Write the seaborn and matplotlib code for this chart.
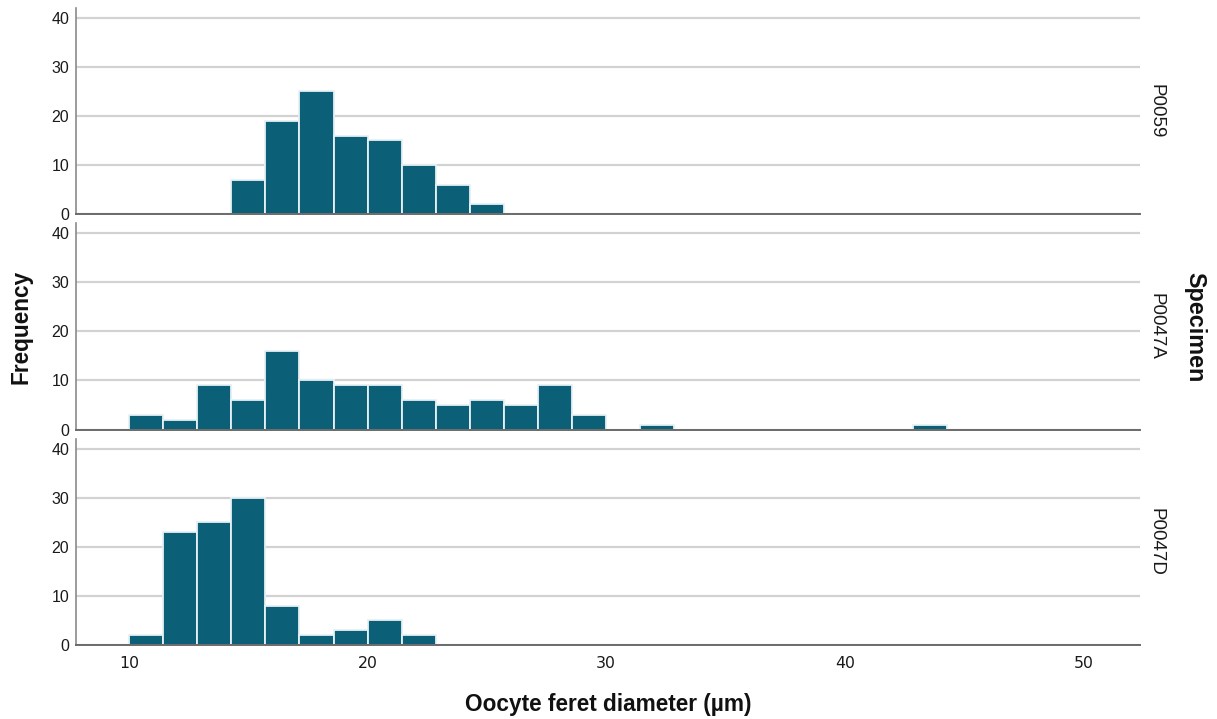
import numpy as np
import pandas as pd
import matplotlib
matplotlib.use('Agg')
import matplotlib.pyplot as plt
import seaborn as sns

# Histogram counts per bin (bins start at 10 um, width 10/7 um)
specimens = ['P0059', 'P0047A', 'P0047D']
counts_p0059 = [0, 0, 0, 7, 19, 25, 16, 15, 10, 6, 2]
counts_p0047a = [3, 2, 9, 6, 16, 10, 9, 9, 6, 5, 6, 5, 9, 3, 0, 1,
                 0, 0, 0, 0, 0, 0, 0, 1]
counts_p0047d = [2, 23, 25, 30, 8, 2, 3, 5, 2]
bin_start = 10.0
bin_width = 10 / 7
n_bins = 24
y_ticks = [0, 10, 20, 30, 40]
x_ticks = [10, 20, 30, 40, 50]

bar_color = '#0b5f77'

# Build a long table of bin centres and counts
rows = []
for name, counts in zip(specimens, [counts_p0059, counts_p0047a, counts_p0047d]):
    for i, c in enumerate(counts):
        if c > 0:
            rows.append({'Specimen': name,
                         'diameter': bin_start + (i + 0.5) * bin_width,
                         'count': c})
df = pd.DataFrame(rows)

sns.set_theme(style='white')
plt.rcParams['font.family'] = ['Liberation Sans', 'DejaVu Sans']

g = sns.displot(data=df, x='diameter', weights='count', row='Specimen',
                row_order=specimens, binwidth=bin_width,
                binrange=(bin_start, bin_start + n_bins * bin_width),
                color=bar_color, alpha=1,
                edgecolor='#e6f1f4', linewidth=1.3, height=2.4, aspect=5,
                facet_kws={'sharex': True, 'sharey': True})

fig = g.figure
fig.set_size_inches(12.17, 7.19)
fig.subplots_adjust(left=0.0625, right=0.937, top=0.989, bottom=0.103,
                    hspace=0.045)

g.set_titles(row_template='', col_template='')
g.set(xlim=(7.78, 52.39), ylim=(0, 42))

for ax, name in zip(g.axes.flat, specimens):
    ax.set_axisbelow(True)
    ax.set_yticks(y_ticks)
    ax.yaxis.grid(True, color='#d2d2d2', linewidth=1.6)
    ax.xaxis.grid(False)
    ax.set_xlabel('')
    ax.set_ylabel('')
    ax.tick_params(axis='both', length=0, pad=5, labelcolor='#1a1a1a')
    ax.tick_params(axis='y', labelsize=11.5)
    for side in ['top', 'right']:
        ax.spines[side].set_visible(False)
    ax.spines['left'].set_color('#8a8a8a')
    ax.spines['left'].set_linewidth(1.2)
    ax.spines['bottom'].set_color('#6a6a6a')
    ax.spines['bottom'].set_linewidth(1.4)
    ax.text(1.007, 0.5, name, transform=ax.transAxes, rotation=270,
            ha='left', va='center', fontsize=13.5, color='#1a1a1a')

bottom_ax = g.axes.flat[-1]
bottom_ax.set_xticks(x_ticks)
bottom_ax.tick_params(axis='x', pad=8, labelsize=11.3,
                      labelfontfamily='DejaVu Sans')

fig.text(0.5, 0.02, 'Oocyte feret diameter (µm)', ha='center', va='center',
         fontsize=16.3, fontweight='bold', color='#111111')
fig.text(0.017, 0.545, 'Frequency', ha='center', va='center', rotation=90,
         fontsize=16.3, fontweight='bold', color='#111111')
fig.text(0.982, 0.545, 'Specimen', ha='center', va='center', rotation=270,
         fontsize=16.8, fontweight='bold', color='#111111')

fig.savefig('out.png', dpi=100)
